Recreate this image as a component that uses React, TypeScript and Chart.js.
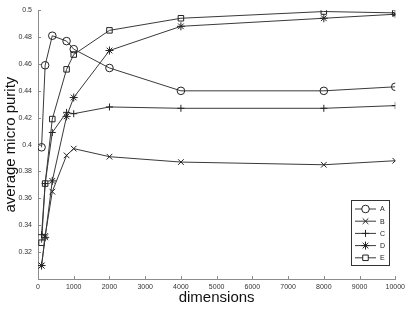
import React, { useEffect, useRef } from 'react';
import { Chart, registerables } from 'chart.js';
import { drawPoint } from 'chart.js/helpers';

Chart.register(...registerables);

const dimensions = [100, 200, 400, 800, 1000, 2000, 4000, 8000, 10000];
const seriesA = [0.398, 0.459, 0.481, 0.477, 0.471, 0.457, 0.440, 0.440, 0.443];
const seriesB = [0.310, 0.332, 0.365, 0.392, 0.397, 0.391, 0.387, 0.385, 0.388];
const seriesC = [0.333, 0.371, 0.409, 0.424, 0.423, 0.428, 0.427, 0.427, 0.429];
const seriesD = [0.310, 0.331, 0.373, 0.421, 0.435, 0.470, 0.488, 0.494, 0.497];
const seriesE = [0.327, 0.371, 0.419, 0.456, 0.467, 0.485, 0.494, 0.499, 0.498];
const seriesNames = ['A', 'B', 'C', 'D', 'E'];
const seriesValues = [seriesA, seriesB, seriesC, seriesD, seriesE];
const markerStyles = ['circle', 'crossRot', 'cross', 'star', 'rect'];
const markerRadius = [3.8, 4, 3.5, 4, 3.9];

const xMin = 0;
const xMax = 10000;
const xStep = 1000;
const yMin = 0.3;
const yMax = 0.5;
const yStep = 0.02;

const FONT = '"Liberation Sans", Arial, sans-serif';
const LINE = '#3a3a3a';
const AXIS = '#8c8c8c';

const innerTicks = {
  id: 'innerTicks',
  afterDraw(chart: any) {
    const { ctx, chartArea } = chart;
    const xs = chart.scales.x;
    const ys = chart.scales.y;
    ctx.save();
    ctx.strokeStyle = AXIS;
    ctx.lineWidth = 1;
    ctx.beginPath();
    xs.ticks.forEach((t: any) => {
      const px = Math.round(xs.getPixelForValue(t.value)) + 0.5;
      ctx.moveTo(px, chartArea.bottom);
      ctx.lineTo(px, chartArea.bottom - 3);
    });
    ys.ticks.forEach((t: any) => {
      const py = Math.round(ys.getPixelForValue(t.value)) + 0.5;
      ctx.moveTo(chartArea.left, py);
      ctx.lineTo(chartArea.left + 3, py);
    });
    ctx.stroke();
    ctx.restore();
  },
};

const boxLegend = {
  id: 'boxLegend',
  afterDraw(chart: any) {
    const { ctx } = chart;
    const left = 351.5;
    const top = 200.5;
    const w = 38;
    const h = 65;
    ctx.save();
    ctx.fillStyle = '#ffffff';
    ctx.fillRect(left, top, w, h);
    ctx.strokeStyle = '#333';
    ctx.lineWidth = 1;
    ctx.strokeRect(left, top, w, h);
    chart.data.datasets.forEach((ds: any, i: number) => {
      const y = 209 + i * 12.2;
      ctx.strokeStyle = LINE;
      ctx.lineWidth = 1;
      ctx.beginPath();
      ctx.moveTo(355, y);
      ctx.lineTo(376, y);
      ctx.stroke();
      ctx.fillStyle = '#ffffff';
      ctx.strokeStyle = '#222';
      drawPoint(ctx, { pointStyle: ds.pointStyle, radius: ds.pointRadius, rotation: 0, borderWidth: 1 } as any, 365.5, y);
      ctx.fillStyle = '#222';
      ctx.font = `7px ${FONT}`;
      ctx.textAlign = 'left';
      ctx.textBaseline = 'middle';
      ctx.fillText(ds.label, 380, y + 0.5);
    });
    ctx.restore();
  },
};

export default function App() {
  const ref = useRef<HTMLCanvasElement | null>(null);

  useEffect(() => {
    if (!ref.current) return;
    const chart = new Chart(ref.current, {
      type: 'line',
      data: {
        datasets: seriesNames.map((name, i) => ({
          label: name,
          data: dimensions.map((d, j) => ({ x: d, y: seriesValues[i][j] })),
          borderColor: LINE,
          borderWidth: 1,
          pointStyle: markerStyles[i] as any,
          pointRadius: markerRadius[i],
          pointHoverRadius: markerRadius[i],
          pointBorderColor: '#222',
          pointBackgroundColor: 'transparent',
          pointBorderWidth: 1,
          fill: false,
          tension: 0,
        })),
      },
      options: {
        animation: false,
        responsive: false,
        maintainAspectRatio: false,
        layout: { padding: { top: 6, right: 13, left: 0, bottom: 0 } },
        plugins: {
          legend: { display: false },
          tooltip: { enabled: false },
        },
        scales: {
          x: {
            type: 'linear',
            min: xMin,
            max: xMax,
            grid: { display: false, drawTicks: false },
            border: { display: true, color: AXIS, width: 1 },
            ticks: {
              stepSize: xStep,
              autoSkip: false,
              maxRotation: 0,
              padding: 4,
              color: '#333',
              font: { size: 7, family: FONT },
              callback: (v: any) => String(v),
            },
            title: {
              display: true,
              text: 'dimensions',
              color: '#111',
              font: { size: 15, family: FONT },
              padding: { top: 0, bottom: 2 },
            },
            afterFit: (s: any) => { s.height = 30; },
          },
          y: {
            type: 'linear',
            min: yMin,
            max: yMax,
            grid: { display: false, drawTicks: false },
            border: { display: true, color: AXIS, width: 1 },
            ticks: {
              stepSize: yStep,
              autoSkip: false,
              padding: 6,
              color: '#333',
              font: { size: 7, family: FONT },
              callback: (v: any) => (Math.abs(v - yMin) < 1e-9 ? '' : String(+Number(v).toFixed(2))),
            },
            title: {
              display: true,
              text: 'average micro purity',
              color: '#111',
              font: { size: 15, family: FONT },
              padding: { top: 2, bottom: 0 },
            },
            afterFit: (s: any) => { s.width = 38; },
          },
        },
      },
      plugins: [innerTicks, boxLegend],
    });
    return () => chart.destroy();
  }, []);

  return (
    <div style={{ position: 'fixed', left: 0, top: 0, width: 409, height: 309, background: '#fff' }}>
      <canvas ref={ref} width={409} height={309} style={{ width: 409, height: 309, display: 'block' }} />
    </div>
  );
}
